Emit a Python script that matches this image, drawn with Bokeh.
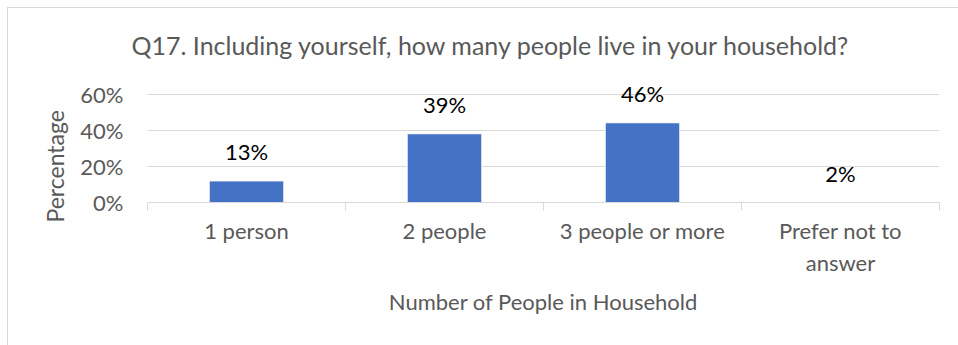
import numpy as np
from bokeh.plotting import figure
from bokeh.models import (Range1d, FixedTicker, PrintfTickFormatter, Title,
                          ColumnDataSource)
from bokeh.core.properties import value
from bokeh.embed import file_html
from bokeh.resources import INLINE

# ---- data ----
categories = ["1 person", "2 people", "3 people or more", "Prefer not to\nanswer"]
bar_values = [12.0, 38.2, 44.3, 0.0]          # bar heights as drawn (%)
bar_labels = ["13%", "39%", "46%", "2%"]      # data labels as printed
y_ticks = [0, 20, 40, 60]
title_text = "Q17. Including yourself, how many people live in your household?"
x_title = "Number of People in Household"
y_title = "Percentage"

FONT = "Lato"
FS = "22px"
GRAY = "#595959"
LINE = "#d9d9d9"
BAR = "#4472C4"

n = len(categories)
centers = [i + 0.5 for i in range(n)]
bounds = [float(i) for i in range(n + 1)]

p = figure(width=951, height=338, output_backend="svg", toolbar_location=None,
           x_range=Range1d(0, n), y_range=Range1d(0, 70),
           min_border_left=139, min_border_right=20,
           min_border_top=68, min_border_bottom=144,
           margin=(7, 0, 0, 7),
           styles={"border-left": "1px solid #d9d9d9",
                   "border-top": "1px solid #d9d9d9"})
p.outline_line_color = None
p.background_fill_color = "white"
p.border_fill_color = "white"

src = ColumnDataSource(dict(x=centers, top=bar_values, lab=bar_labels))
p.vbar(x="x", top="top", width=0.377, source=src, fill_color=BAR,
       line_color="white", line_width=1)
p.text(x="x", y="top", text="lab", source=src, y_offset=-29,
       text_align="center", text_baseline="middle",
       text_font=value(FONT), text_font_size=FS, text_color="#000000")

# x axis
xa = p.xaxis[0]
xa.ticker = FixedTicker(ticks=centers, minor_ticks=bounds)
xa.major_label_overrides = {c: lab for c, lab in zip(centers, categories)}
xa.axis_line_color = LINE
xa.axis_line_width = 1
xa.major_tick_line_color = None
xa.major_tick_in = 0
xa.major_tick_out = 0
xa.minor_tick_line_color = LINE
xa.minor_tick_in = 0
xa.minor_tick_out = 8
xa.major_label_standoff = 6
xa.major_label_text_font = FONT
xa.major_label_text_font_size = FS
xa.major_label_text_color = GRAY
xa.axis_label = x_title
xa.axis_label_text_font = FONT
xa.axis_label_text_font_size = FS
xa.axis_label_text_font_style = "normal"
xa.axis_label_text_color = GRAY
xa.axis_label_standoff = 9

# y axis
ya = p.yaxis[0]
ya.ticker = FixedTicker(ticks=y_ticks)
ya.formatter = PrintfTickFormatter(format="%d%%")
ya.axis_line_color = None
ya.major_tick_line_color = None
ya.minor_tick_line_color = None
ya.major_tick_in = 0
ya.major_tick_out = 0
ya.major_label_standoff = 24
ya.major_label_text_font = FONT
ya.major_label_text_font_size = FS
ya.major_label_text_color = GRAY

p.xgrid.grid_line_color = None
p.ygrid.ticker = FixedTicker(ticks=y_ticks)
p.ygrid.grid_line_color = LINE
p.ygrid.grid_line_width = 1

# chart title
p.title = Title(text=title_text, align="left", offset=-16, standoff=34,
                text_font=FONT, text_font_size="25px", text_font_style="normal",
                text_color=GRAY)
# y-axis title
p.add_layout(Title(text=y_title, align="left", offset=-20, standoff=18,
                   text_font=FONT, text_font_size="23px", text_font_style="normal",
                   text_color=GRAY), "left")

open("out.html", "w").write(file_html(p, INLINE))
